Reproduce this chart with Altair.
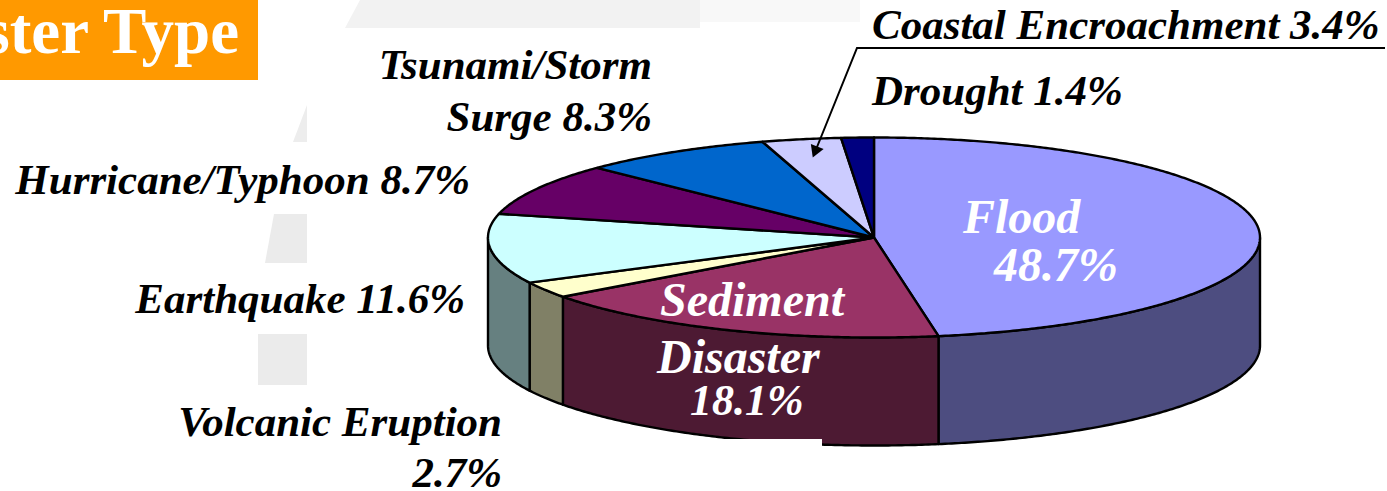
import numpy as np
import pandas as pd
import altair as alt

# Share of disasters by type, in drawing order clockwise from twelve o'clock
names = ["Flood", "Sediment Disaster", "Volcanic Eruption", "Earthquake",
         "Hurricane/Typhoon", "Tsunami/Storm Surge", "Coastal Encroachment", "Drought"]
shares = [48.7, 18.1, 2.7, 11.6, 8.7, 8.3, 3.4, 1.4]
top_colors = ["#9999FF", "#993366", "#FFFFCC", "#CCFFFF", "#660066", "#0066CC", "#CCCCFF", "#000080"]
wall_colors = ["#4D4D80", "#4D1A33", "#808066", "#668080", "#330033", "#003366", "#666680", "#000040"]

W, H = 1387, 491
CX, CY, RX, RY, DEPTH = 874.0, 237.5, 386.0, 100.0, 108.0


def rim(t, drop=0.0):
    """Point on the tilted disc rim at clockwise angle t (degrees from top)."""
    r = np.radians(t)
    return CX + RX * np.sin(r), CY - RY * np.cos(r) + drop


def ring(key, pts, rows):
    pts = list(pts) + [pts[0]]
    for i, (px, py) in enumerate(pts):
        rows.append({"poly": key, "i": i, "px": px, "py": py})


edges = np.concatenate([[0], np.cumsum(shares)]) / sum(shares) * 360.0
rows, domain, palette = [], [], []

# Side walls first, only where the rim faces the viewer
for k, (a, b) in enumerate(zip(edges[:-1], edges[1:])):
    lo, hi = max(a, 90.0), min(b, 270.0)
    if lo >= hi:
        continue
    ts = np.linspace(lo, hi, int(hi - lo) * 2 + 2)
    pts = [rim(t) for t in ts] + [rim(t, DEPTH) for t in ts[::-1]]
    key = f"wall-{k}"
    ring(key, pts, rows)
    domain.append(key)
    palette.append(wall_colors[k])

# Top faces
for k, (a, b) in enumerate(zip(edges[:-1], edges[1:])):
    ts = np.linspace(a, b, int(b - a) * 2 + 2)
    pts = [(CX, CY)] + [rim(t) for t in ts]
    key = f"top-{k}"
    ring(key, pts, rows)
    domain.append(key)
    palette.append(top_colors[k])

polys = pd.DataFrame(rows)

xs = alt.Scale(domain=[0, W], nice=False, zero=False)
ys = alt.Scale(domain=[H, 0], nice=False, zero=False)
X = lambda f: alt.X(f, type="quantitative", scale=xs, axis=None)
Y = lambda f: alt.Y(f, type="quantitative", scale=ys, axis=None)


def backdrop_shape(color, corners):
    d = pd.DataFrame([{"i": i, "px": p[0], "py": p[1]} for i, p in enumerate(corners + corners[:1])])
    return alt.Chart(d).mark_line(fill=color, stroke=color, strokeWidth=0).encode(
        x=X("px"), y=Y("py"), order="i:Q")


backdrop = [
    backdrop_shape("#F8F8F8", [(700, 0), (860, 0), (860, 22), (700, 22)]),
    backdrop_shape("#F2F2F2", [(360, 0), (700, 0), (700, 28), (345, 28)]),
    backdrop_shape("#EDEDED", [(307, 105), (307, 142), (293, 142)]),
    backdrop_shape("#EBEBEB", [(274, 214), (307, 214), (307, 263), (265, 263)]),
    backdrop_shape("#EBEBEB", [(258, 334), (307, 334), (307, 385), (258, 385)]),
]


def box(x0, x1, y0, y1, color):
    d = pd.DataFrame([{"a": x0, "b": x1, "c": y0, "e": y1}])
    return alt.Chart(d).mark_rect(color=color).encode(
        x=X("a"), x2="b", y=Y("c"), y2="e")


banner = box(0, 258, 0, 80, "#FF9900")

pie = alt.Chart(polys).mark_line(stroke="black", strokeWidth=2.4, strokeJoin="round").encode(
    x=X("px"), y=Y("py"), order="i:Q", detail="poly:N",
    fill=alt.Fill("poly:N", scale=alt.Scale(domain=domain, range=palette), legend=None),
)

notch = box(700, 822, 439, 452, "#FFFFFF")

leader = pd.DataFrame({"i": [0, 1, 2], "px": [1385, 857, 815], "py": [48, 48, 152]})
leader_line = alt.Chart(leader).mark_line(color="black", strokeWidth=2).encode(
    x=X("px"), y=Y("py"), order="i:Q")
leader_head = alt.Chart(leader.tail(1)).mark_point(
    shape="triangle-up", size=190, filled=True, color="black", opacity=1, angle=202
).encode(x=X("px"), y=Y("py"))


def pct(k):
    return f"{shares[k]}%"


labels = pd.DataFrame([
    ("Tsunami/Storm", 652, 79, "right", "black", 43),
    (f"Surge {pct(5)}", 652, 131, "right", "black", 43),
    (f"Hurricane/Typhoon {pct(4)}", 470, 194, "right", "black", 43),
    (f"Earthquake {pct(3)}", 465, 313, "right", "black", 43),
    ("Volcanic Eruption", 502, 436, "right", "black", 43),
    (pct(2), 502, 487, "right", "black", 43),
    (f"Coastal Encroachment {pct(6)}", 872, 39, "left", "black", 43),
    (f"Drought {pct(7)}", 872, 105, "left", "black", 43),
    ("Flood", 963, 233, "left", "white", 48),
    (pct(0), 994, 281, "left", "white", 48),
    ("Sediment", 660, 316, "left", "white", 48),
    ("Disaster", 657, 373, "left", "white", 48),
    (pct(1), 690, 415, "left", "white", 44),
], columns=["txt", "px", "py", "al", "col", "fs"])


def label_layer(al):
    d = labels[labels["al"] == al]
    return alt.Chart(d).mark_text(
        font="Liberation Serif", fontStyle="italic", fontWeight="bold",
        baseline="alphabetic", align=al,
    ).encode(x=X("px"), y=Y("py"), text="txt:N",
             color=alt.Color("col:N", scale=None),
             size=alt.Size("fs:Q", scale=None))


heading = alt.Chart(pd.DataFrame([{"txt": "ster Type", "px": 239, "py": 53}])).mark_text(
    font="Liberation Serif", fontWeight="bold", fontSize=65, color="white",
    baseline="alphabetic", align="right",
).encode(x=X("px"), y=Y("py"), text="txt:N")

chart = alt.layer(
    *backdrop, banner, heading, pie, notch, leader_line, leader_head,
    label_layer("left"), label_layer("right"),
).properties(
    width=W, height=H, padding=0, background="white",
    autosize=alt.AutoSizeParams(type="none"),
).configure_view(stroke=None)

chart.save("out.html", embed_options={"renderer": "svg", "actions": False})
